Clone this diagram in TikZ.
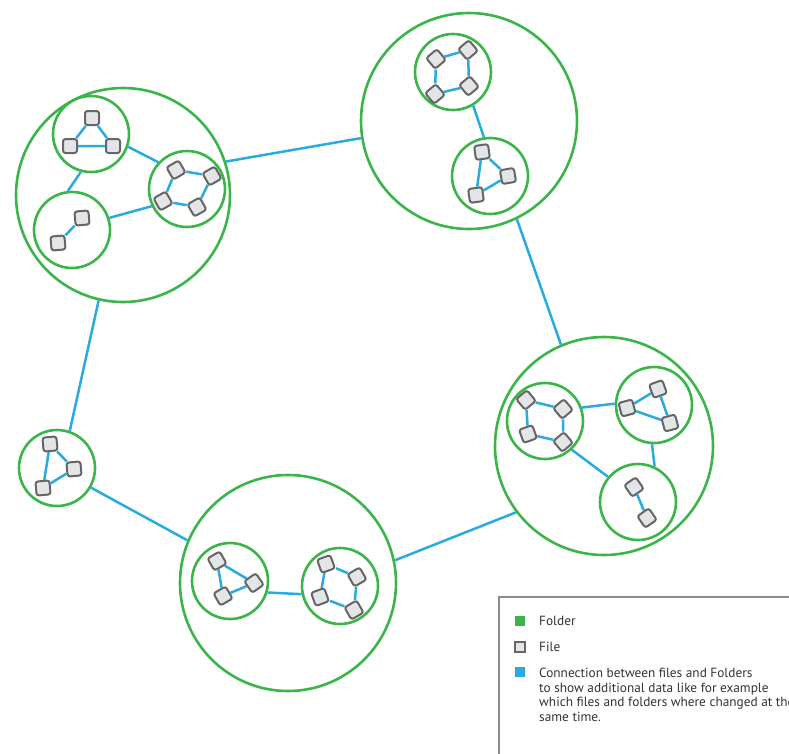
\documentclass[tikz,border=0pt]{standalone}
\usepackage{fontspec}
\setmainfont{PT Sans}
\usepackage{tikz}
\usetikzlibrary{positioning}

\definecolor{foldergreen}{HTML}{3BB54A}
\definecolor{linkblue}{HTML}{29ABE2}
\definecolor{filefill}{HTML}{E4E5E7}
\definecolor{fileedge}{HTML}{666666}
\definecolor{legendedge}{HTML}{8C8C8C}
\definecolor{legendtext}{HTML}{333333}

\begin{document}
\begin{tikzpicture}[x=1pt, y=-1pt,
    folder/.style={circle, draw=foldergreen, line width=2.6pt, inner sep=0pt},
    file/.style={rectangle, rounded corners=2.5pt, draw=fileedge, fill=filefill, line width=2pt, minimum size=14pt, inner sep=0pt},
    link/.style={draw=linkblue, line width=2.5pt},
    legendkey/.style={rectangle, minimum size=10pt, inner sep=0pt},
    legendlabel/.style={text=legendtext, font=\fontsize{13.3}{14.6}\selectfont, inner sep=0pt}]
    \useasboundingbox (0,0) rectangle (789,753);
    \clip (0,0) rectangle (789,753);
    % big folders
    \node[folder, minimum size=214pt] (tl) at (123,195) {};
    \node[folder, minimum size=216pt] (tr) at (469,121) {};
    \node[folder, minimum size=218pt] (rt) at (604,446) {};
    \node[folder, minimum size=216pt] (bt) at (288,583) {};
    % small folders
    \node[folder, minimum size=76pt] (tla) at (91,134) {};
    \node[folder, minimum size=76pt] (tlb) at (72,230) {};
    \node[folder, minimum size=76pt] (tlc) at (187,189) {};
    \node[folder, minimum size=76pt] (tra) at (453,72) {};
    \node[folder, minimum size=76pt] (trb) at (490,176) {};
    \node[folder, minimum size=76pt] (rta) at (545,421) {};
    \node[folder, minimum size=76pt] (rtb) at (654,405) {};
    \node[folder, minimum size=76pt] (rtc) at (638,502) {};
    \node[folder, minimum size=76pt] (bta) at (230,581) {};
    \node[folder, minimum size=76pt] (btb) at (340,586) {};
    \node[folder, minimum size=76pt] (sl) at (57,468) {};
    % links between folders
    \draw[link] (tl.18) -- (tr.189);
    \draw[link] (tr.-64) -- (rt.113);
    \draw[link] (rt.217) -- (bt.12);
    \draw[link] (bt.157) -- (sl.-30);
    \draw[link] (sl.71) -- (tl.-103);
    \draw[link] (tla.-19) -- (tlc.137);
    \draw[link] (tla.-105) -- (tlb.96);
    \draw[link] (tlb.18) -- (tlc.206);
    \draw[link] (tra.-59) -- (trb.99);
    \draw[link] (rta.20) -- (rtb.178);
    \draw[link] (rta.-47) -- (rtc.140);
    \draw[link] (rtb.-93) -- (rtc.65);
    \draw[link] (bta.-17) -- (btb.192);
    % files
    \node[file] (tla1) at (92,118) {};
    \node[file] (tla2) at (70,146) {};
    \node[file] (tla3) at (113,146) {};
    \node[file, rotate=5] (tlb1) at (82,218) {};
    \node[file, rotate=5] (tlb2) at (58,243) {};
    \node[file, rotate=30] (tlc1) at (176,170) {};
    \node[file, rotate=30] (tlc2) at (212,176) {};
    \node[file, rotate=30] (tlc3) at (197,207) {};
    \node[file, rotate=30] (tlc4) at (163,201) {};
    \node[file, rotate=40] (tra1) at (436,59) {};
    \node[file, rotate=40] (tra2) at (468,50) {};
    \node[file, rotate=40] (tra3) at (469,86) {};
    \node[file, rotate=40] (tra4) at (435,94) {};
    \node[file, rotate=8] (trb1) at (482,152) {};
    \node[file, rotate=10] (trb2) at (508,176) {};
    \node[file, rotate=8] (trb3) at (476,195) {};
    \node[file, rotate=40] (rta1) at (526,400) {};
    \node[file, rotate=40] (rta2) at (563,409) {};
    \node[file, rotate=40] (rta3) at (563,442) {};
    \node[file, rotate=20] (rta4) at (528,434) {};
    \node[file, rotate=20] (rtb1) at (658,389) {};
    \node[file, rotate=15] (rtb2) at (627,408) {};
    \node[file, rotate=15] (rtb3) at (670,423) {};
    \node[file, rotate=35] (rtc1) at (634,487) {};
    \node[file, rotate=35] (rtc2) at (647,518) {};
    \node[file, rotate=30] (bta1) at (217,561) {};
    \node[file, rotate=35] (bta2) at (254,583) {};
    \node[file, rotate=30] (bta3) at (223,596) {};
    \node[file, rotate=20] (btb1) at (326,564) {};
    \node[file, rotate=30] (btb2) at (357,577) {};
    \node[file, rotate=30] (btb3) at (354,610) {};
    \node[file, rotate=20] (btb4) at (320,597) {};
    \node[file, rotate=5] (sl1) at (50,444) {};
    \node[file, rotate=5] (sl2) at (74,469) {};
    \node[file, rotate=5] (sl3) at (43,488) {};
    % links between files
    \draw[link] (tla1) -- (tla2) -- (tla3) -- (tla1);
    \draw[link] (tlb1) -- (tlb2);
    \draw[link] (tlc1) -- (tlc2) -- (tlc3) -- (tlc4) -- (tlc1);
    \draw[link] (tra1) -- (tra2) -- (tra3) -- (tra4) -- (tra1);
    \draw[link] (trb1) -- (trb2) -- (trb3) -- (trb1);
    \draw[link] (rta1) -- (rta2) -- (rta3) -- (rta4) -- (rta1);
    \draw[link] (rtb2) -- (rtb1) -- (rtb3) -- (rtb2);
    \draw[link] (rtc1) -- (rtc2);
    \draw[link] (bta1) -- (bta2) -- (bta3) -- (bta1);
    \draw[link] (btb1) -- (btb2) -- (btb3) -- (btb4) -- (btb1);
    \draw[link] (sl1) -- (sl2) -- (sl3) -- (sl1);
    % legend
    \draw[legendedge, line width=1.5pt] (499,800) -- (499,597) -- (820,597);
    \node[legendkey, fill=foldergreen] (kfolder) at (520,621) {};
    \node[legendkey, fill=filefill, draw=fileedge, line width=1.2pt] (kfile) at (520,647) {};
    \node[legendkey, fill=linkblue] (klink) at (520,672) {};
    \node[legendlabel, anchor=west] (lfolder) at (539,621) {Folder};
    \node[legendlabel, anchor=west] (lfile) at (539,647) {File};
    \node[legendlabel, anchor=north west, align=left] (llink) at (539,668) {Connection between files and Folders\\to show additional data like for example\\which files and folders where changed at the\\same time.};
\end{tikzpicture}
\end{document}
